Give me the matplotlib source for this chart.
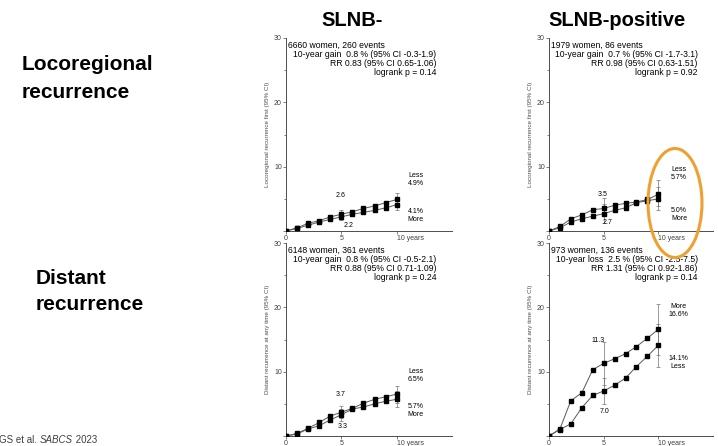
import matplotlib.pyplot as plt
from matplotlib.patches import Ellipse

plt.rcParams['font.family'] = ['Liberation Sans', 'DejaVu Sans']

years = list(range(11))
ci_years = [5, 10]

# locoregional, SLNB-
lr_neg_less = [0, 0.5, 1.2, 1.6, 2.2, 2.6, 3.0, 3.5, 3.9, 4.4, 4.9]
lr_neg_more = [0, 0.4, 0.9, 1.4, 1.8, 2.2, 2.6, 2.9, 3.2, 3.6, 4.1]
lr_neg_less_ci = [(2.1, 3.3), (4.0, 5.9)]
lr_neg_more_ci = [(1.7, 2.8), (3.3, 5.0)]

# locoregional, SLNB-positive
lr_pos_a = [0, 0.7, 1.9, 2.5, 3.3, 3.5, 4.0, 4.3, 4.5, 4.9, 5.7]
lr_pos_b = [0, 0.5, 1.4, 1.9, 2.3, 2.7, 3.2, 3.6, 4.4, 4.7, 5.0]
lr_pos_a_ci = [(2.3, 5.1), (3.9, 7.9)]
lr_pos_b_ci = [(1.2, 4.2), (3.3, 6.8)]

# distant, SLNB-
dr_neg_less = [0, 0.4, 1.2, 2.1, 3.1, 3.7, 4.3, 5.1, 5.7, 6.1, 6.5]
dr_neg_more = [0, 0.3, 1.1, 1.6, 2.5, 3.3, 4.2, 4.5, 5.0, 5.4, 5.7]
dr_neg_less_ci = [(2.8, 4.7), (5.2, 7.8)]
dr_neg_more_ci = [(2.4, 4.2), (4.5, 7.0)]

# distant, SLNB-positive
dr_pos_more = [0, 1.1, 5.5, 6.7, 10.3, 11.3, 12.0, 12.8, 13.9, 15.2, 16.6]
dr_pos_less = [0, 1.0, 1.9, 4.4, 6.3, 7.0, 7.9, 9.0, 10.8, 12.4, 14.1]
dr_pos_more_ci = [(7.9, 14.6), (12.6, 20.5)]
dr_pos_less_ci = [(5.0, 9.0), (10.8, 17.4)]

headers = {
    'tl': ['6660 women, 260 events', '10-year gain  0.8 % (95% CI -0.3-1.9)',
           'RR 0.83 (95% CI 0.65-1.06)', 'logrank p = 0.14'],
    'tr': ['1979 women, 86 events', '10-year gain  0.7 % (95% CI -1.7-3.1)',
           'RR 0.98 (95% CI 0.63-1.51)', 'logrank p = 0.92'],
    'bl': ['6148 women, 361 events', '10-year gain  0.8 % (95% CI -0.5-2.1)',
           'RR 0.88 (95% CI 0.71-1.09)', 'logrank p = 0.24'],
    'br': ['973 women, 136 events', '10-year loss  2.5 % (95% CI -2.5-7.5)',
           'RR 1.31 (95% CI 0.92-1.86)', 'logrank p = 0.14'],
}

W, H = 718, 446
fig = plt.figure(figsize=(W / 100, H / 100), dpi=100)


def px_axes(x0, y0, x1, y1):
    return fig.add_axes([x0 / W, 1 - y1 / H, (x1 - x0) / W, (y1 - y0) / H])


def draw_panel(ax, a, b, ci_a, ci_b, header, ylabel):
    for vals, ci in ((a, ci_a), (b, ci_b)):
        ax.plot(years, vals, '-', color='0.35', lw=0.7, marker='s', ms=2.3,
                mfc='black', mec='black', zorder=3)
        mid = [vals[y] for y in ci_years]
        lo = [m - c[0] for m, c in zip(mid, ci)]
        hi = [c[1] - m for m, c in zip(mid, ci)]
        ax.errorbar(ci_years, mid, yerr=[lo, hi], fmt='none', ecolor='0.45',
                    elinewidth=0.5, capsize=1.2, capthick=0.5, zorder=2)
    ax.set_xlim(0, 15)
    ax.set_ylim(0, 30)
    for s in ('top', 'right'):
        ax.spines[s].set_visible(False)
    for s in ('left', 'bottom'):
        ax.spines[s].set_linewidth(0.7)
        ax.spines[s].set_color('0.3')
    ax.set_xticks([0, 5, 10])
    ax.set_xticklabels(['0', '5', '10 years'])
    ax.get_xticklabels()[2].set_horizontalalignment('left')
    ax.set_yticks([0, 10, 20, 30])
    ax.set_yticklabels(['', '10', '20', '30'])
    ax.set_yticks([5, 15, 25], minor=True)
    ax.tick_params(labelsize=5, length=2, width=0.5, color='0.3', pad=1,
                   labelcolor='0.25')
    ax.tick_params(which='minor', length=1.2, width=0.5, color='0.3')
    ax.set_ylabel(ylabel, fontsize=4.5, color='0.3', labelpad=3)
    ax.text(0.2, 28.9, header[0], fontsize=6.2, va='center', ha='left')
    for i, line in enumerate(header[1:]):
        ax.text(13.6, 27.5 - 1.4 * i, line, fontsize=6.2, va='center', ha='right')


lr_label = 'Locoregional recurrence first (95% CI)'
dr_label = 'Distant recurrence at any time (95% CI)'

ax1 = px_axes(286, 38, 452, 231)
draw_panel(ax1, lr_neg_less, lr_neg_more, lr_neg_less_ci, lr_neg_more_ci, headers['tl'], lr_label)
ax1.text(4.9, 5.5, '2.6', fontsize=5, ha='center', va='center')
ax1.text(5.7, 0.8, '2.2', fontsize=5, ha='center', va='center')
ax1.text(11.7, 8.0, 'Less\n4.9%', fontsize=5, ha='center', va='center')
ax1.text(11.7, 2.4, '4.1%\nMore', fontsize=5, ha='center', va='center')

ax2 = px_axes(549, 38, 713, 231)
draw_panel(ax2, lr_pos_a, lr_pos_b, lr_pos_a_ci, lr_pos_b_ci, headers['tr'], lr_label)
ax2.text(4.9, 5.6, '3.5', fontsize=5, ha='center', va='center')
ax2.text(5.4, 1.35, '2.7', fontsize=5, ha='center', va='center')
ax2.text(11.9, 8.9, 'Less\n5.7%', fontsize=5, ha='center', va='center')
ax2.text(11.9, 2.5, '5.0%\nMore', fontsize=5, ha='center', va='center')

ax3 = px_axes(286, 243, 452, 436)
draw_panel(ax3, dr_neg_less, dr_neg_more, dr_neg_less_ci, dr_neg_more_ci, headers['bl'], dr_label)
ax3.text(4.9, 6.5, '3.7', fontsize=5, ha='center', va='center')
ax3.text(5.1, 1.5, '3.3', fontsize=5, ha='center', va='center')
ax3.text(11.7, 9.4, 'Less\n6.5%', fontsize=5, ha='center', va='center')
ax3.text(11.7, 4.0, '5.7%\nMore', fontsize=5, ha='center', va='center')

ax4 = px_axes(549, 243, 713, 436)
draw_panel(ax4, dr_pos_more, dr_pos_less, dr_pos_more_ci, dr_pos_less_ci, headers['br'], dr_label)
ax4.text(4.5, 14.8, '11.3', fontsize=5, ha='center', va='center')
ax4.text(5.1, 3.8, '7.0', fontsize=5, ha='center', va='center')
ax4.text(11.8, 19.5, 'More\n16.6%', fontsize=5, ha='center', va='center')
ax4.text(11.8, 11.4, '14.1%\nLess', fontsize=5, ha='center', va='center')

fig.text(352 / W, 1 - 21 / H, 'SLNB-', fontsize=14.5, fontweight='bold', ha='center', va='center')
fig.text(617 / W, 1 - 21 / H, 'SLNB-positive', fontsize=14.5, fontweight='bold', ha='center', va='center')

fig.text(22 / W, 1 - 65 / H, 'Locoregional', fontsize=15, fontweight='bold', va='center')
fig.text(22 / W, 1 - 92 / H, 'recurrence', fontsize=15, fontweight='bold', va='center')
fig.text(36 / W, 1 - 278 / H, 'Distant', fontsize=15, fontweight='bold', va='center')
fig.text(36 / W, 1 - 305 / H, 'recurrence', fontsize=15, fontweight='bold', va='center')

# footer: three pieces placed one after another
renderer = fig.canvas.get_renderer()
x = -1
for piece, st in (('GS et al. ', 'normal'), ('SABCS', 'italic'), (' 2023', 'normal')):
    t = fig.text(x / W, 1 - 440 / H, piece, fontsize=7, color='0.25', style=st, va='center')
    x += t.get_window_extent(renderer).width

ring = Ellipse((675 / W, 1 - 203 / H), 54 / W, 109 / H, transform=fig.transFigure,
               fill=False, ec='#F0A030', lw=2.2, zorder=10)
fig.add_artist(ring)

fig.savefig('out.png', dpi=100)
